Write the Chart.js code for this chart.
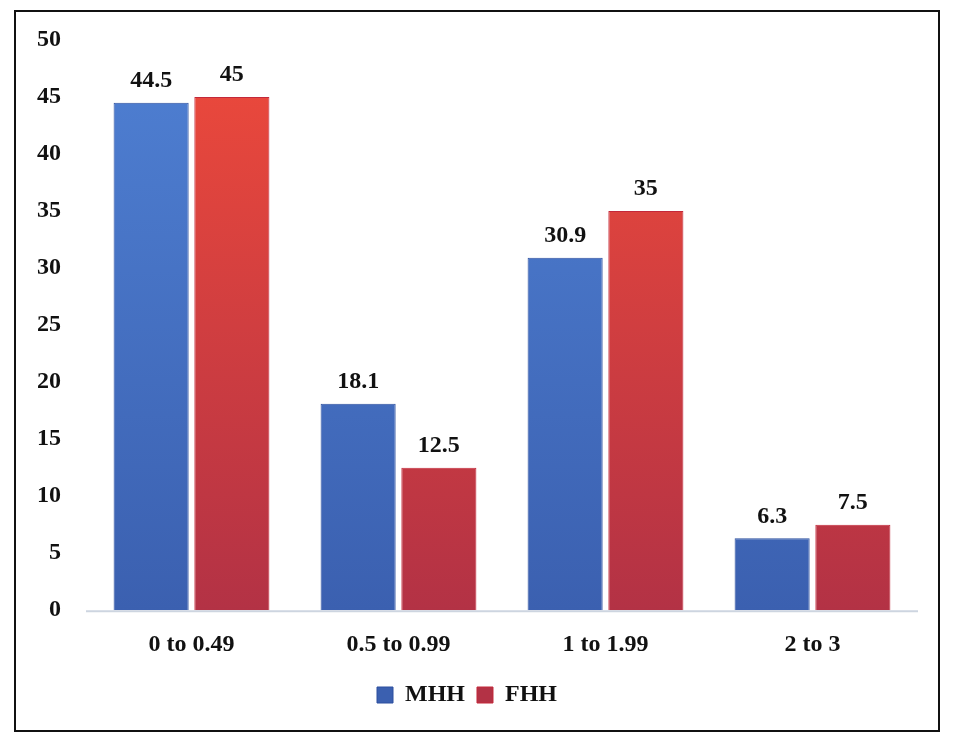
<!DOCTYPE html>
<html>
<head>
<meta charset="utf-8">
<script src="https://cdn.jsdelivr.net/npm/chart.js@4/dist/chart.umd.min.js"></script>
<style>
  html, body { margin: 0; padding: 0; background: #fff; }
  #wrap { position: relative; width: 954px; height: 747px; }
  #frame {
    position: absolute; left: 14px; top: 10px; width: 922px; height: 718px;
    border: 2px solid #111; pointer-events: none;
  }
</style>
</head>
<body>
<div id="wrap">
  <canvas id="landChart" width="954" height="747"></canvas>
  <div id="frame"></div>
</div>
<script>
const categories = ['0 to 0.49', '0.5 to 0.99', '1 to 1.99', '2 to 3'];
const mhhValues = [44.5, 18.1, 30.9, 6.3];
const fhhValues = [45, 12.5, 35, 7.5];
const yTicks = [0, 5, 10, 15, 20, 25, 30, 35, 40, 45, 50];

const serif = '"Liberation Serif", "Times New Roman", serif';

function barGradient(top, bottom) {
    return function (ctx) {
        const area = ctx.chart.chartArea;
        if (!area) return top;
        const g = ctx.chart.ctx.createLinearGradient(0, area.top, 0, area.bottom);
        g.addColorStop(0, top);
        g.addColorStop(1, bottom);
        return g;
    };
}

// value labels above each bar + light baseline
const extras = {
    id: 'extras',
    beforeDatasetsDraw(chart) {
        const c = chart.ctx;
        const y0 = chart.scales.y.getPixelForValue(0);
        c.save();
        c.strokeStyle = '#cdd5e0';
        c.lineWidth = 2;
        c.beginPath();
        c.moveTo(chart.chartArea.left - 2, y0 + 1);
        c.lineTo(chart.chartArea.right + 2, y0 + 1);
        c.stroke();
        c.restore();
    },
    afterDatasetsDraw(chart) {
        const c = chart.ctx;
        c.save();
        c.font = 'bold 24px ' + serif;
        c.fillStyle = '#111';
        c.textAlign = 'center';
        c.textBaseline = 'bottom';
        chart.data.datasets.forEach((ds, i) => {
            chart.getDatasetMeta(i).data.forEach((bar, j) => {
                c.fillText(String(ds.data[j]), bar.x, bar.y - 10);
            });
        });
        c.restore();
    }
};

new Chart(document.getElementById('landChart'), {
    type: 'bar',
    data: {
        labels: categories,
        datasets: [{
            label: 'MHH',
            data: mhhValues,
            backgroundColor: barGradient('#4f80d3', '#3b60b0'),
            borderColor: '#2c4f9e',
            borderWidth: 1,
            barPercentage: 0.93,
            categoryPercentage: 0.78
        }, {
            label: 'FHH',
            data: fhhValues,
            backgroundColor: barGradient('#ee4a3b', '#b33245'),
            borderColor: '#c3283a',
            borderWidth: 1,
            barPercentage: 0.93,
            categoryPercentage: 0.78
        }]
    },
    options: {
        responsive: false,
        animation: false,
        layout: { padding: { left: 18, right: 38, top: 40, bottom: 30 } },
        scales: {
            x: {
                grid: { display: false },
                border: { display: false },
                ticks: {
                    color: '#111',
                    padding: 12,
                    font: { family: serif, size: 24, weight: 'bold' }
                }
            },
            y: {
                min: 0,
                max: 50,
                afterBuildTicks(scale) {
                    scale.ticks = yTicks.map(v => ({ value: v }));
                },
                grid: { display: false },
                border: { display: false },
                ticks: {
                    color: '#111',
                    padding: 19,
                    font: { family: serif, size: 24, weight: 'bold' }
                }
            }
        },
        plugins: {
            tooltip: { enabled: false },
            legend: {
                position: 'bottom',
                labels: {
                    color: '#111',
                    boxWidth: 16,
                    boxHeight: 16,
                    padding: 12,
                    font: { family: serif, size: 24, weight: 'bold' }
                }
            }
        }
    },
    plugins: [extras]
});
</script>
</body>
</html>
